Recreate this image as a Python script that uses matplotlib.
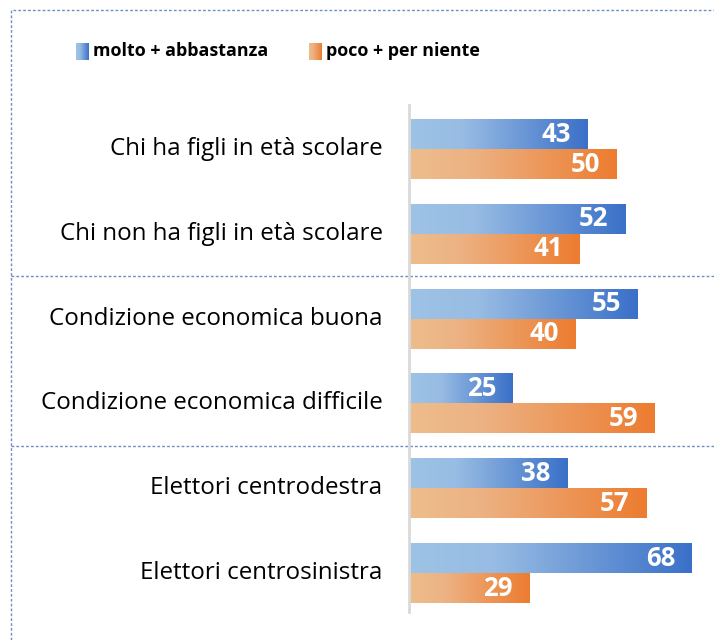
import numpy as np
import matplotlib.pyplot as plt
import matplotlib.transforms as mtransforms
from matplotlib.colors import LinearSegmentedColormap
from matplotlib.lines import Line2D

plt.rcParams['font.family'] = ['Open Sans', 'DejaVu Sans']

categories = [
    "Chi ha figli in età scolare",
    "Chi non ha figli in età scolare",
    "Condizione economica buona",
    "Condizione economica difficile",
    "Elettori centrodestra",
    "Elettori centrosinistra",
]
molto = [43, 52, 55, 25, 38, 68]
poco = [50, 41, 40, 59, 57, 29]
series_names = ["molto + abbastanza", "poco + per niente"]
separators = [1.5, 3.5]

W, H = 714, 640
fig = plt.figure(figsize=(W / 100, H / 100), dpi=100)
ax = fig.add_axes([409 / W, 1 - 612 / H, (W - 409) / W, 507 / H])

blue_cmap = LinearSegmentedColormap.from_list(
    'blue', [(0, '#9dc3e6'), (0.3, '#98bce3'), (1, '#3a70c8')])
orange_cmap = LinearSegmentedColormap.from_list(
    'orange', [(0, '#eebd8c'), (0.3, '#ecb283'), (1, '#ed7c30')])
grad = np.linspace(0, 1, 256).reshape(1, -1)

h = 0.354
y = np.arange(len(categories))

for vals, offs, cmap in [(molto, -h / 2, blue_cmap), (poco, h / 2, orange_cmap)]:
    bars = ax.barh(y + offs, vals, height=h, color='none', edgecolor='none')
    for bar, v in zip(bars, vals):
        x0, y0 = bar.get_x(), bar.get_y()
        im = ax.imshow(grad, cmap=cmap, aspect='auto',
                       extent=[x0, x0 + bar.get_width(), y0 + h, y0])
        im.set_clip_path(bar)
        ax.annotate(str(v), (v, y0 + h / 2), xytext=(-12, 0), textcoords='offset points',
                    ha='right', va='center', color='white', fontweight='bold', fontsize=18.5)

for i, cat in enumerate(categories):
    ax.annotate(cat, (0, i), xytext=(-19, 0), textcoords='offset points',
                ha='right', va='center', color='black', fontsize=17.4, annotation_clip=False)

ax.set_xlim(0, (W - 409) / 4.16)
ax.set_ylim(-0.519 + 507 / 84.8, -0.519)
ax.set_xticks([])
ax.set_yticks([])
for s in ['top', 'right', 'bottom']:
    ax.spines[s].set_visible(False)
ax.spines['left'].set_color('#d9d9d9')
ax.spines['left'].set_linewidth(2)

# dotted frame and group separators
dot = dict(color='#6f8fbf', lw=1, ls=(0, (2, 1.5)))
fig.add_artist(Line2D([11 / W, 11 / W, 1], [0, 1 - 10 / H, 1 - 10 / H],
                      transform=fig.transFigure, **dot))
trans = mtransforms.blended_transform_factory(fig.transFigure, ax.transData)
for sy in separators:
    ax.add_line(Line2D([11 / W, 1], [sy, sy], transform=trans, clip_on=False, **dot))

# legend
for x_sq, name, cmap in [(76, series_names[0], blue_cmap), (309, series_names[1], orange_cmap)]:
    lax = fig.add_axes([x_sq / W, 1 - 60 / H, 13 / W, 17 / H])
    lax.imshow(grad, cmap=cmap, aspect='auto')
    lax.axis('off')
    fig.text((x_sq + 17) / W, 1 - 51 / H, name, ha='left', va='center',
             fontsize=12.9, fontweight='bold')

fig.savefig('out.png', dpi=100)
